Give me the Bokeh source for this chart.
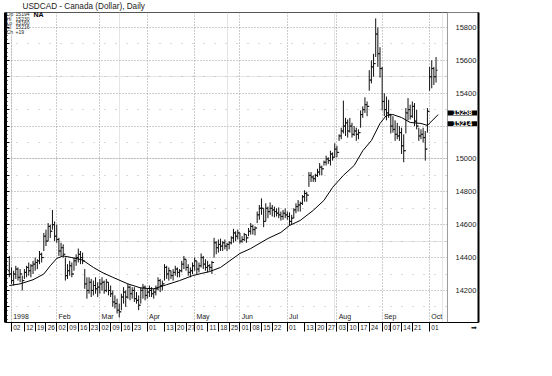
from bokeh.plotting import figure
from bokeh.models import Range1d, LinearAxis, FixedTicker, Label, BoxAnnotation, Grid, Span, Title
from bokeh.embed import file_html
from bokeh.resources import INLINE
from bokeh.core.properties import value

FONT = "Liberation Sans"

# trading-day index (0 = Jan 02 1998)
day_index = list(range(-1, 198))
high = [14410, 14340, 14320, 14350, 14340, 14330, 14290, 14330, 14350, 14370, 14360,
        14380, 14400, 14390, 14440, 14430, 14550, 14570, 14610, 14600, 14690,
        14620, 14600, 14520, 14490, 14480, 14400, 14360, 14380, 14370, 14400,
        14420, 14455, 14440, 14430, 14330, 14280, 14280, 14270, 14260, 14280,
        14250, 14270, 14280, 14260, 14270, 14250, 14230, 14200, 14170, 14150,
        14120, 14180, 14220, 14200, 14240, 14230, 14220, 14220, 14190, 14170,
        14220, 14240, 14230, 14210, 14230, 14220, 14210, 14230, 14280, 14270,
        14260, 14360, 14350, 14340, 14320, 14330, 14350, 14340, 14330, 14380,
        14410, 14390, 14360, 14340, 14370, 14400, 14380, 14370, 14425, 14410,
        14390, 14380, 14360, 14380, 14520, 14500, 14510, 14515, 14500, 14510,
        14490, 14500, 14530, 14575, 14560, 14570, 14550, 14530, 14550, 14540,
        14580, 14610, 14600, 14590, 14680, 14720, 14760, 14700, 14730, 14710,
        14735, 14720, 14710, 14700, 14705, 14680, 14690, 14700, 14680, 14675,
        14660, 14700, 14730, 14750, 14740, 14780, 14810, 14800, 14920, 14920,
        14900, 14910, 14940, 14975, 14960, 14990, 15020, 15010, 15050, 15040,
        15095, 15080, 15150, 15190, 15355, 15250, 15240, 15250, 15220, 15200,
        15190, 15180, 15295, 15320, 15375, 15350, 15540, 15600, 15640, 15855,
        15800, 15680, 15560, 15400, 15380, 15360, 15275, 15260, 15235, 15220,
        15200, 15190, 15150, 15310, 15370, 15330, 15350, 15340, 15300, 15190,
        15180, 15190, 15170, 15310, 15560, 15600, 15560, 15620]
low = [14280, 14240, 14230, 14270, 14260, 14250, 14200, 14270, 14280, 14290, 14280,
       14300, 14320, 14330, 14360, 14370, 14440, 14470, 14500, 14520, 14570,
       14500, 14490, 14410, 14410, 14400, 14260, 14270, 14290, 14280, 14320,
       14350, 14370, 14360, 14360, 14210, 14150, 14180, 14160, 14170, 14180,
       14160, 14180, 14200, 14180, 14190, 14170, 14160, 14100, 14090, 14060,
       14036, 14080, 14120, 14100, 14150, 14140, 14150, 14130, 14120, 14080,
       14120, 14150, 14140, 14150, 14160, 14160, 14150, 14170, 14200, 14190,
       14200, 14260, 14270, 14260, 14270, 14260, 14290, 14280, 14280, 14310,
       14330, 14320, 14290, 14280, 14300, 14320, 14300, 14310, 14340, 14330,
       14320, 14310, 14320, 14300, 14400, 14420, 14430, 14440, 14440, 14450,
       14440, 14450, 14480, 14490, 14500, 14510, 14485, 14490, 14500, 14490,
       14530, 14540, 14540, 14535, 14610, 14630, 14660, 14585, 14620, 14640,
       14660, 14650, 14645, 14650, 14640, 14625, 14630, 14640, 14630, 14595,
       14600, 14640, 14670, 14680, 14680, 14720, 14740, 14740, 14830, 14860,
       14860, 14860, 14890, 14900, 14900, 14960, 14960, 14970, 14960, 14990,
       15010, 15010, 15110, 15120, 15155, 15140, 15130, 15160, 15130, 15140,
       15110, 15120, 15190, 15250, 15280, 15260, 15415, 15460, 15500, 15620,
       15560, 15495, 15295, 15260, 15235, 15250, 15155, 15160, 15110, 15120,
       15110, 15030, 14980, 15155, 15235, 15240, 15250, 15200, 15180, 15110,
       15120, 15100, 14990, 15160, 15415, 15430, 15450, 15465]
close = [14300, 14260, 14300, 14330, 14280, 14300, 14260, 14310, 14340, 14320, 14350,
         14360, 14370, 14380, 14420, 14400, 14530, 14500, 14590, 14560, 14600,
         14530, 14510, 14440, 14460, 14420, 14290, 14320, 14350, 14300, 14380,
         14400, 14420, 14400, 14380, 14240, 14200, 14250, 14200, 14230, 14210,
         14220, 14240, 14250, 14200, 14250, 14200, 14180, 14130, 14120, 14080,
         14070, 14160, 14190, 14160, 14220, 14180, 14200, 14150, 14140, 14110,
         14200, 14220, 14170, 14190, 14200, 14180, 14190, 14210, 14260, 14230,
         14240, 14340, 14300, 14320, 14290, 14310, 14330, 14310, 14320, 14360,
         14390, 14340, 14310, 14320, 14350, 14380, 14330, 14350, 14400, 14360,
         14340, 14350, 14340, 14370, 14490, 14460, 14480, 14470, 14490, 14470,
         14480, 14490, 14520, 14550, 14530, 14550, 14500, 14510, 14540, 14520,
         14560, 14590, 14570, 14580, 14660, 14700, 14700, 14620, 14700, 14680,
         14700, 14690, 14680, 14670, 14660, 14650, 14670, 14660, 14650, 14620,
         14640, 14690, 14710, 14720, 14730, 14770, 14790, 14780, 14900, 14890,
         14880, 14900, 14920, 14950, 14940, 14980, 15000, 14990, 15030, 15010,
         15060, 15040, 15140, 15170, 15200, 15220, 15170, 15200, 15150, 15170,
         15150, 15160, 15270, 15300, 15330, 15320, 15480, 15560, 15580, 15760,
         15640, 15550, 15350, 15300, 15280, 15270, 15200, 15180, 15150, 15140,
         15160, 15080, 15050, 15280, 15300, 15260, 15320, 15230, 15200, 15140,
         15150, 15130, 15060, 15290, 15500, 15550, 15500, 15540]
open_ = [14320] + close[:-1]

# moving average
ma_index = [-1, 4, 10, 15, 18, 21, 24, 28, 33, 38, 42, 47, 54, 60, 66, 72, 78, 84,
            88, 92, 97, 106, 111, 119, 125, 129, 134, 140, 145, 149, 154, 159,
            163, 167, 171, 174, 177, 181, 185, 190, 193, 198]
ma_value = [14230, 14240, 14265, 14300, 14350, 14395, 14410, 14400, 14385, 14340,
            14310, 14280, 14240, 14215, 14210, 14235, 14260, 14290, 14303, 14315,
            14340, 14425, 14455, 14516, 14553, 14595, 14626, 14687, 14748, 14827,
            14900, 14960, 15050, 15112, 15216, 15265, 15270, 15252, 15222, 15216,
            15204, 15270]

tick_day_index = [0, 6, 11, 16, 21, 26, 31, 36, 41, 46, 51, 56, 63, 71, 76, 81,
                  85, 91, 96, 101, 106, 111, 116, 121, 128, 136, 141, 146,
                  151, 156, 161, 166, 172, 176, 181, 186, 194]
tick_day_labels = ["02", "12", "19", "26", "02", "09", "16", "23", "02", "09", "16", "23",
                   "01", "13", "20", "27", "01", "11", "18", "25", "01", "08", "15", "22",
                   "01", "13", "20", "27", "03", "10", "17", "24", "01", "07", "14", "21", "01"]
month_index = [0, 21, 41, 63, 85, 106, 128, 151, 172, 194]
month_labels = ["1998", "Feb", "Mar", "Apr", "May", "Jun", "Jul", "Aug", "Sep", "Oct"]
price_ticks = [14200, 14400, 14600, 14800, 15000, 15400, 15600, 15800]
grid_major = [14200, 14400, 14600, 14800, 15000, 15200, 15400, 15600, 15800]
grid_minor = [14100, 14300, 14500, 14700, 14900, 15100, 15300, 15500, 15700]
box_values = [15258, 15214]
box_nudge = [22, 0]          # keeps the two value boxes from overlapping
legend_names = ["Op", "Hi", "Lo", "Cl", "Ch"]
legend_values = ["15194", "15230", "15160", "15216", "+19"]

X0, X_PLOT_END, X1 = -2.78, 202.3, 216.7   # frame spans plot area + price panel
Y0, Y1 = 14005, 15891

p = figure(width=490, height=360, output_backend="svg", toolbar_location=None,
           x_range=Range1d(X0, X1), y_range=Range1d(Y0, Y1),
           x_axis_location=None, y_axis_location=None,
           min_border_left=5, min_border_right=12, min_border_top=12, min_border_bottom=38)
p.outline_line_color = "#555555"
p.outline_line_width = 1
p.background_fill_color = "white"
p.border_fill_color = "white"

# title
p.title = Title(text="USDCAD - Canada (Dollar), Daily", align="left", offset=17,
                standoff=0, vertical_align="top", text_font=FONT, text_font_size="8.2px",
                text_font_style="normal", text_color="#222222")

# grids
gx = Grid(dimension=0, ticker=FixedTicker(ticks=month_index),
          grid_line_color="#9a9a9a", grid_line_dash="1 2")
gy = Grid(dimension=1, ticker=FixedTicker(ticks=grid_major, minor_ticks=grid_minor),
          grid_line_color="#9a9a9a", grid_line_dash="1 2",
          minor_grid_line_color="#b0b0b0", minor_grid_line_dash="1 10")
p.add_layout(gx)
p.add_layout(gy)

# price panel (right of plot area): blank background drawn over the grid only
p.add_layout(BoxAnnotation(left=X_PLOT_END, right=X1, fill_color="white", fill_alpha=1,
                           line_color=None, level="underlay"))
# info box background
p.add_layout(BoxAnnotation(left=X0, right=7.0, top=Y1, bottom=15757,
                           fill_color="white", fill_alpha=1, line_color=None,
                           level="underlay"))
p.add_layout(Span(location=X_PLOT_END, dimension="height", line_color="#9a9a9a",
                  line_width=1))

# OHLC bars
p.segment(x0=day_index, y0=low, x1=day_index, y1=high, line_color="#111111", line_width=1)
p.segment(x0=[i - 0.7 for i in day_index], y0=open_, x1=day_index, y1=open_,
          line_color="#111111", line_width=1)
p.segment(x0=day_index, y0=close, x1=[i + 0.7 for i in day_index], y1=close,
          line_color="#111111", line_width=1)

# moving average
p.line(ma_index, ma_value, line_color="black", line_width=1)

# month names inside plot bottom
p.text(x=[m + 0.8 for m in month_index], y=[14040] * len(month_index), text=month_labels,
       text_font=value(FONT), text_font_size="7px", text_baseline="middle",
       text_align="left", text_color="#222222")

# info box texts
legend_y = [15879, 15852, 15826, 15800, 15775]
for nm, vl, yy in zip(legend_names, legend_values, legend_y):
    p.add_layout(Label(x=-2.3, y=yy, text=nm, text_font=FONT, text_font_size="5px",
                       text_baseline="middle", text_color="#222222"))
    p.add_layout(Label(x=1.9, y=yy, text=vl, text_font=FONT, text_font_size="5px",
                       text_baseline="middle", text_color="#222222"))
p.add_layout(Label(x=10.2, y=15879, text="NA", text_font=FONT, text_font_size="7px",
                   text_font_style="bold", text_baseline="middle", text_color="black"))

# last-value boxes on the price scale
for v, nudge in zip(box_values, box_nudge):
    p.add_layout(Label(x=202.4, y=v + nudge, text=str(v), text_font=FONT,
                       text_font_size="7px", text_font_style="bold",
                       text_baseline="middle", text_color="white",
                       background_fill_color="black", background_fill_alpha=1,
                       padding=(5, 0)))

# left heavy border with small ticks
left_ticks = list(range(14100, 15900, 100))
al = LinearAxis(ticker=FixedTicker(ticks=left_ticks,
                                   minor_ticks=list(range(14025, 15900, 25))),
                major_label_overrides={t: "" for t in left_ticks},
                axis_line_color="black", axis_line_width=3,
                major_tick_in=4, major_tick_out=0, minor_tick_in=2, minor_tick_out=0,
                major_tick_line_color="black", minor_tick_line_color="black",
                major_label_text_font_size="1px", major_label_standoff=0)
p.add_layout(al, "left")

# right price axis: its line is the heavy black bar, labels sit inside the panel
ay = LinearAxis(ticker=FixedTicker(ticks=price_ticks), axis_line_color="black",
                axis_line_width=2, major_tick_line_color=None, minor_tick_line_color=None,
                major_tick_out=0, major_tick_in=0, minor_tick_out=0, minor_tick_in=0,
                major_label_standoff=-23, major_label_text_font=FONT,
                major_label_text_font_size="7.5px", major_label_text_color="#222222")
p.add_layout(ay, "right")

# bottom date axis
arrow_tick = 214.4
xa = LinearAxis(ticker=FixedTicker(ticks=[t + 2.5 for t in tick_day_index] + [arrow_tick],
                                   minor_ticks=tick_day_index),
                major_label_overrides={**{t + 2.5: lab for t, lab in zip(tick_day_index, tick_day_labels)},
                                       arrow_tick: "\u27a1"},
                axis_line_color="black", major_tick_line_color=None,
                major_tick_out=0, major_tick_in=0,
                minor_tick_line_color="black", minor_tick_out=9, minor_tick_in=0,
                major_label_standoff=-8, major_label_text_font=FONT,
                major_label_text_font_size="6.5px", major_label_text_color="#222222")
p.add_layout(xa, "below")

open("out.html", "w").write(file_html(p, INLINE))
